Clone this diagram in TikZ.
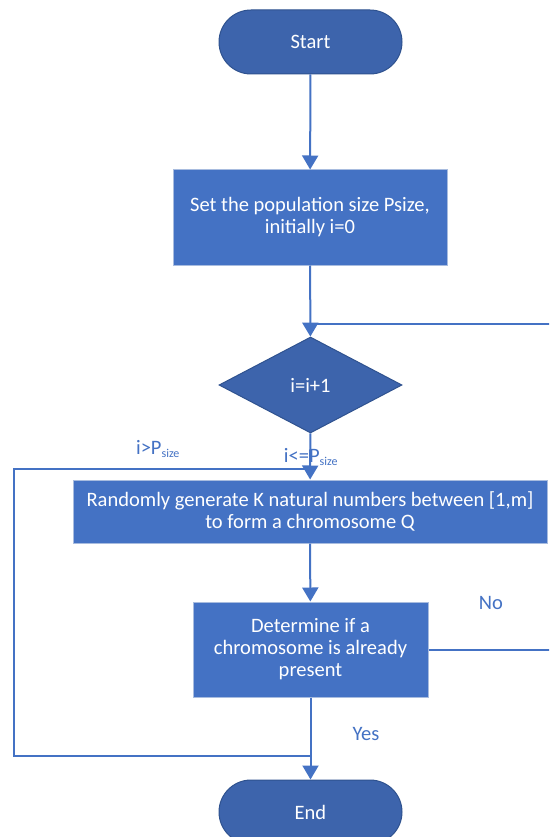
\documentclass[tikz,border=0pt]{standalone}
\usepackage{fontspec}
\setmainfont{Carlito}
\usetikzlibrary{shapes.geometric,arrows.meta}
\definecolor{lineblue}{HTML}{4472C4}
\definecolor{termfill}{HTML}{3D64AC}
\definecolor{termdraw}{HTML}{2F528F}
\definecolor{boxdraw}{HTML}{A8BCDF}
\tikzset{
  term/.style={draw=termdraw, line width=1pt, fill=termfill, rounded corners=32pt,
    minimum width=183pt, minimum height=64pt, inner sep=0pt, text=white, font=\fontsize{20.5}{22}\selectfont},
  procbox/.style={draw=boxdraw, line width=1pt, fill=lineblue, inner sep=0pt,
    text=white, align=center, font=\fontsize{20.5}{22}\selectfont},
  decbox/.style={diamond, draw=termdraw, line width=1pt, fill=termfill, inner sep=0pt,
    minimum width=183pt, minimum height=96pt, text=white, font=\fontsize{20.5}{22}\selectfont},
  conn/.style={draw=lineblue, line width=2pt},
  arr/.style={conn, -{Triangle[width=16pt,length=14pt]}},
  lbl/.style={text=lineblue, font=\fontsize{20.5}{22}\selectfont, inner sep=0pt},
}
\begin{document}
\begin{tikzpicture}[x=1pt,y=-1pt]
\useasboundingbox (0,0) rectangle (549,837);
\clip (0,0) rectangle (549,837);
\fill[white] (0,0) rectangle (549,837);

\node[term] (start) at (310.5,42) {Start};
\node[procbox, minimum width=274pt, minimum height=95pt] (set) at (310,217.5)
  {Set the population size Psize,\\initially i=0};
\node[decbox] (dec) at (310.5,385) {i=i+1};
\node[procbox, minimum width=474pt, minimum height=63pt] (gen) at (310,511.5)
  {Randomly generate K natural numbers between [1,m]\\to form a chromosome Q};
\node[procbox, minimum width=235pt, minimum height=95pt] (det) at (310.5,649.5)
  {Determine if a\\chromosome is already\\present};
\node[term] (end) at (310.5,812) {End};

\coordinate (join) at (310,324);
\coordinate (rtop) at (553,324);
\coordinate (rbot) at (553,649.5);
\coordinate (lsplit) at (310,469);
\coordinate (ltop) at (14,469);
\coordinate (lbot) at (14,756);
\coordinate (ljoin) at (310,756);

\draw[arr] (start) -- (set);
\draw[arr] (set) -- (dec);
\draw[arr] (dec) -- (gen);
\draw[arr] (gen) -- (det);
\draw[arr] (det) -- (end);
\draw[conn] (det.east) -- (rbot) -- (rtop) -- (join);
\draw[conn] (lsplit) -- (ltop) -- (lbot) -- (ljoin);

\node[lbl] (lgt) at (158,449) {i>P\textsubscript{\fontsize{12}{14}\selectfont size}};
\node[lbl] (lle) at (311,457) {i<=P\textsubscript{\fontsize{12}{14}\selectfont size}};
\node[lbl] (lno) at (491,603) {No};
\node[lbl] (lyes) at (366,734) {Yes};
\end{tikzpicture}
\end{document}
